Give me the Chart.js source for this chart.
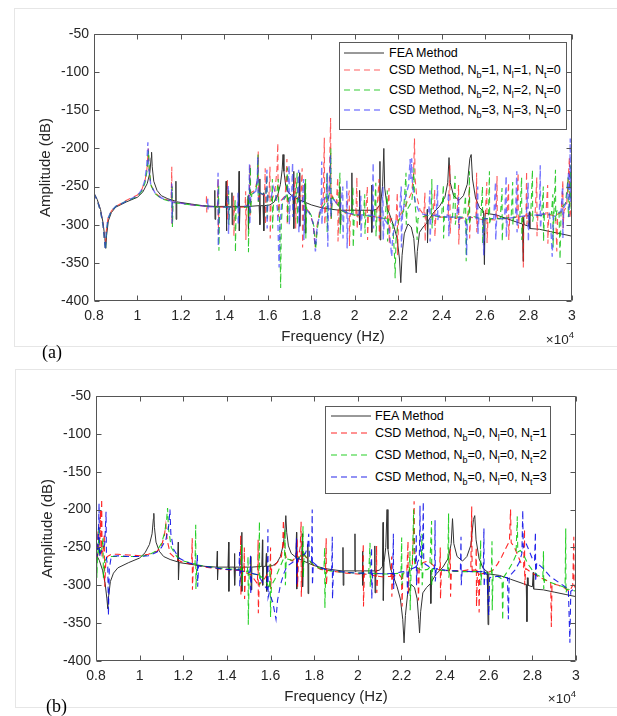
<!DOCTYPE html>
<html><head><meta charset="utf-8">
<script src="https://cdn.jsdelivr.net/npm/chart.js@4.4.1/dist/chart.umd.min.js"></script>
<style>
html,body{margin:0;padding:0;background:#fff;}
#wrap{position:relative;width:617px;height:716px;overflow:hidden;font-family:'Liberation Sans',Arial,Helvetica,sans-serif;}
canvas{position:absolute;left:0;}
.frame{position:absolute;border:1px solid #e6e6e6;box-sizing:border-box;}
.leg{position:absolute;box-sizing:border-box;border:1px solid #5a5a5a;background:#fff;z-index:5;}
.row{position:absolute;left:0;height:16px;display:flex;align-items:center;white-space:nowrap;font-size:12.5px;color:#000;line-height:16px;}
.row sub{font-size:9px;vertical-align:-4px;line-height:0;}
.lab{position:absolute;font-family:'Liberation Serif','Times New Roman',serif;font-size:18px;color:#000;z-index:5;}
.exp{position:absolute;font-size:13.5px;color:#262626;z-index:5;white-space:nowrap;}
.exp sup{font-size:9.5px;vertical-align:6px;line-height:0;}
</style></head>
<body><div id="wrap">
<div class="frame" style="left:14px;top:8px;width:620px;height:339px;"></div>
<div class="frame" style="left:15px;top:369px;width:620px;height:339px;"></div>
<canvas id="ca" width="617" height="360" style="top:0;"></canvas>
<canvas id="cb" width="617" height="356" style="top:360px;"></canvas>

<div class="leg" style="left:339px;top:42px;width:228px;height:88px;">
 <div class="row" style="top:2px;"><svg width="40" height="4" style="margin-left:4px;margin-right:5px;"><line x1="0" y1="2" x2="40" y2="2" stroke="#333" stroke-width="1"/></svg><span>FEA Method</span></div>
 <div class="row" style="top:19px;"><svg width="40" height="4" style="margin-left:4px;margin-right:5px;"><line x1="0" y1="2" x2="40" y2="2" stroke="rgba(255,40,40,0.75)" stroke-width="1.2" stroke-dasharray="6 4"/></svg><span>CSD Method, N<sub>b</sub>=1, N<sub>l</sub>=1, N<sub>t</sub>=0</span></div>
 <div class="row" style="top:39px;"><svg width="40" height="4" style="margin-left:4px;margin-right:5px;"><line x1="0" y1="2" x2="40" y2="2" stroke="rgba(0,190,0,0.8)" stroke-width="1.2" stroke-dasharray="6 4"/></svg><span>CSD Method, N<sub>b</sub>=2, N<sub>l</sub>=2, N<sub>t</sub>=0</span></div>
 <div class="row" style="top:59px;"><svg width="40" height="4" style="margin-left:4px;margin-right:5px;"><line x1="0" y1="2" x2="40" y2="2" stroke="rgba(70,70,255,0.65)" stroke-width="1.6" stroke-dasharray="6 4"/></svg><span>CSD Method, N<sub>b</sub>=3, N<sub>l</sub>=3, N<sub>t</sub>=0</span></div>
</div>

<div class="leg" style="left:325px;top:406px;width:226px;height:88px;">
 <div class="row" style="top:1px;"><svg width="40" height="4" style="margin-left:5px;margin-right:4px;"><line x1="0" y1="2" x2="40" y2="2" stroke="#333" stroke-width="1"/></svg><span>FEA Method</span></div>
 <div class="row" style="top:18px;"><svg width="40" height="4" style="margin-left:5px;margin-right:4px;"><line x1="0" y1="2" x2="40" y2="2" stroke="rgba(255,0,0,0.85)" stroke-width="1.2" stroke-dasharray="6 4"/></svg><span>CSD Method, N<sub>b</sub>=0, N<sub>l</sub>=0, N<sub>t</sub>=1</span></div>
 <div class="row" style="top:40px;"><svg width="40" height="4" style="margin-left:5px;margin-right:4px;"><line x1="0" y1="2" x2="40" y2="2" stroke="rgba(0,200,0,0.85)" stroke-width="1.2" stroke-dasharray="6 4"/></svg><span>CSD Method, N<sub>b</sub>=0, N<sub>l</sub>=0, N<sub>t</sub>=2</span></div>
 <div class="row" style="top:62px;"><svg width="40" height="4" style="margin-left:5px;margin-right:4px;"><line x1="0" y1="2" x2="40" y2="2" stroke="rgba(0,0,230,0.85)" stroke-width="1.2" stroke-dasharray="6 4"/></svg><span>CSD Method, N<sub>b</sub>=0, N<sub>l</sub>=0, N<sub>t</sub>=3</span></div>
</div>

<div class="exp" style="right:43px;top:332px;">&times;10<sup>4</sup></div>
<div class="exp" style="right:41px;top:691px;">&times;10<sup>4</sup></div>
<div class="lab" style="left:42px;top:342px;">(a)</div>
<div class="lab" style="left:46px;top:696px;">(b)</div>
</div>
<script>
// ---- axis ticks ----
const xTicks = [0.8,1.0,1.2,1.4,1.6,1.8,2.0,2.2,2.4,2.6,2.8,3.0];
const yTicks = [-50,-100,-150,-200,-250,-300,-350,-400];

// ---- FEA method (same in both panels), x in 1e4 Hz, y in dB ----
const feaPts = [
[0.800,-259],[0.815,-267],[0.830,-280],[0.842,-298],[0.850,-318],[0.854,-331],[0.858,-314],[0.866,-295],[0.880,-284],[0.900,-277],[0.950,-270],[1.000,-264],[1.025,-257],[1.045,-246],[1.057,-232],[1.063,-212],[1.065,-205],[1.068,-224],[1.075,-243],[1.090,-255],[1.110,-262],[1.140,-266],[1.174,-269],
[1.177,-243],[1.178,-293],[1.181,-270],
[1.250,-273],[1.300,-275],[1.353,-276],
[1.356,-255],[1.357,-293],[1.360,-276],
[1.405,-276],[1.408,-243],[1.409,-308],[1.412,-276],
[1.433,-276],[1.435,-258],[1.436,-300],[1.439,-276],
[1.465,-276],[1.468,-230],[1.469,-308],[1.472,-276],
[1.507,-276],[1.510,-262],[1.511,-306],[1.514,-276],
[1.560,-275],[1.563,-240],[1.564,-300],[1.567,-275],
[1.578,-275],[1.581,-258],[1.582,-308],[1.585,-275],
[1.610,-274],[1.630,-270],[1.645,-262],[1.658,-247],[1.666,-228],[1.670,-208],[1.674,-230],[1.682,-248],[1.695,-258],
[1.716,-263],[1.719,-230],[1.720,-305],[1.723,-264],
[1.743,-267],[1.746,-232],[1.747,-302],[1.750,-268],
[1.768,-270],[1.771,-246],[1.772,-311],[1.775,-271],
[1.800,-274],[1.850,-278],[1.900,-280],
[1.930,-281],[1.932,-250],[1.933,-300],[1.936,-281],
[1.985,-281],[1.987,-232],[1.988,-282],[1.991,-281],
[2.020,-281],[2.022,-255],[2.023,-300],[2.026,-281],
[2.075,-281],[2.078,-248],[2.079,-310],[2.082,-281],
[2.100,-280],[2.113,-275],[2.116,-217],[2.117,-320],[2.120,-270],[2.128,-250],[2.134,-200],[2.138,-252],[2.150,-278],[2.165,-290],[2.180,-302],[2.195,-318],[2.206,-345],[2.212,-376],[2.218,-340],[2.228,-312],[2.245,-299],[2.260,-303],[2.272,-318],[2.279,-345],[2.283,-363],[2.288,-335],[2.298,-310],[2.315,-303],
[2.332,-298],[2.334,-280],[2.335,-324],[2.338,-295],
[2.360,-285],[2.390,-276],[2.415,-264],[2.428,-245],[2.434,-212],[2.440,-245],[2.455,-262],[2.480,-268],[2.500,-262],[2.518,-247],[2.530,-213],[2.536,-208],[2.542,-240],[2.556,-265],[2.575,-278],
[2.593,-282],[2.595,-311],[2.597,-352],[2.600,-285],
[2.650,-287],[2.700,-292],[2.760,-298],
[2.772,-299],[2.775,-348],[2.777,-290],[2.780,-300],
[2.800,-302],[2.804,-283],[2.806,-305],
[2.850,-306],[2.900,-309],[2.950,-312],[3.000,-315]
];

// ---- panel (a): CSD, Nb=Nl=1,2,3, Nt=0 ----
const redA = [
[0.800,-259],[0.815,-268],[0.830,-282],[0.842,-300],[0.849,-320],[0.852,-330],[0.856,-310],[0.864,-292],[0.880,-282],[0.900,-276],[0.950,-268],[1.000,-261],[1.020,-254],[1.035,-242],[1.044,-226],[1.050,-200],[1.054,-228],[1.062,-248],[1.080,-258],[1.110,-265],[1.155,-269],
[1.158,-224],[1.159,-300],[1.162,-270],
[1.250,-274],[1.316,-276],[1.318,-261],[1.319,-284],[1.322,-276],
[1.368,-277],[1.371,-240],[1.372,-312],[1.375,-277],
[1.411,-277],[1.414,-241],[1.415,-294],[1.418,-277],
[1.440,-277],[1.443,-262],[1.444,-315],[1.447,-277],
[1.495,-277],[1.498,-256],[1.499,-320],[1.502,-274],
[1.515,-262],[1.518,-222],[1.519,-290],[1.522,-258],
[1.540,-255],[1.553,-240],[1.556,-204],[1.557,-272],[1.562,-258],
[1.585,-262],[1.588,-226],[1.589,-300],[1.592,-262],
[1.605,-264],[1.610,-224],[1.611,-318],[1.615,-270],
[1.632,-258],[1.642,-228],[1.646,-193],[1.648,-290],[1.655,-270],
[1.680,-262],[1.688,-214],[1.689,-300],[1.693,-266],
[1.720,-262],[1.727,-238],[1.728,-305],[1.731,-266],
[1.752,-262],[1.758,-226],[1.760,-330],[1.764,-275],
[1.790,-283],[1.808,-298],[1.818,-330],[1.826,-302],[1.840,-280],
[1.855,-270],[1.860,-186],[1.862,-300],[1.868,-272],
[1.882,-260],[1.889,-160],[1.891,-295],[1.896,-262],
[1.915,-272],[1.922,-238],[1.923,-322],[1.928,-280],
[1.960,-285],[1.975,-255],[1.976,-328],[1.980,-286],
[2.005,-288],[2.010,-238],[2.011,-306],[2.015,-287],
[2.050,-288],[2.058,-250],[2.059,-320],[2.063,-288],
[2.100,-290],[2.112,-240],[2.113,-318],[2.118,-289],
[2.150,-292],[2.158,-252],[2.159,-325],[2.165,-292],
[2.190,-294],[2.196,-258],[2.197,-340],[2.202,-290],
[2.225,-280],[2.245,-268],[2.262,-258],[2.271,-232],[2.275,-187],[2.278,-240],[2.285,-262],[2.300,-280],
[2.318,-287],[2.323,-258],[2.324,-322],[2.328,-288],
[2.360,-290],[2.368,-254],[2.369,-316],[2.373,-290],
[2.430,-290],[2.438,-222],[2.439,-312],[2.444,-290],
[2.470,-292],[2.478,-248],[2.479,-326],[2.483,-292],
[2.520,-290],[2.528,-250],[2.529,-318],[2.533,-290],
[2.558,-292],[2.561,-232],[2.562,-310],[2.566,-292],
[2.600,-294],[2.608,-244],[2.609,-324],[2.613,-293],
[2.650,-294],[2.655,-236],[2.656,-290],[2.660,-292],
[2.700,-292],[2.708,-245],[2.709,-320],[2.713,-292],
[2.745,-290],[2.752,-232],[2.753,-305],[2.757,-290],
[2.772,-288],[2.776,-356],[2.778,-290],
[2.788,-288],[2.791,-230],[2.792,-300],[2.796,-288],
[2.830,-287],[2.838,-238],[2.839,-315],[2.843,-287],
[2.880,-286],[2.888,-248],[2.889,-325],[2.893,-287],
[2.925,-288],[2.930,-335],[2.934,-286],
[2.950,-284],[2.958,-242],[2.959,-305],[2.963,-282],
[2.975,-276],[2.988,-212],[2.990,-292],[3.000,-268]
];
const greenA = [
[0.800,-259],[0.815,-268],[0.830,-283],[0.842,-302],[0.849,-324],[0.853,-333],[0.857,-310],[0.865,-292],[0.880,-282],[0.900,-276],[0.950,-269],[1.000,-263],[1.020,-256],[1.035,-245],[1.045,-228],[1.051,-203],[1.055,-230],[1.063,-249],[1.080,-259],[1.110,-266],[1.158,-270],
[1.160,-250],[1.161,-303],[1.164,-271],
[1.250,-274],[1.330,-276],
[1.372,-277],[1.374,-248],[1.375,-334],[1.378,-277],
[1.418,-277],[1.420,-255],[1.421,-300],[1.424,-277],
[1.448,-277],[1.450,-268],[1.451,-336],[1.454,-277],
[1.508,-277],[1.510,-262],[1.511,-336],[1.514,-270],
[1.520,-224],[1.521,-285],[1.526,-260],
[1.545,-256],[1.552,-240],[1.555,-208],[1.556,-270],[1.562,-258],
[1.590,-262],[1.596,-235],[1.597,-292],[1.600,-262],
[1.618,-268],[1.621,-240],[1.622,-305],[1.626,-272],
[1.640,-262],[1.648,-240],[1.650,-272],[1.655,-300],[1.659,-383],[1.662,-300],[1.668,-270],
[1.685,-262],[1.690,-225],[1.691,-298],[1.695,-265],
[1.730,-263],[1.735,-232],[1.736,-300],[1.740,-266],
[1.770,-272],[1.774,-240],[1.775,-318],[1.779,-278],
[1.800,-288],[1.812,-302],[1.820,-332],[1.828,-305],[1.842,-282],
[1.868,-270],[1.872,-232],[1.873,-310],[1.877,-268],
[1.886,-255],[1.890,-200],[1.892,-292],[1.897,-264],
[1.925,-275],[1.932,-232],[1.933,-312],[1.938,-282],
[1.985,-286],[1.992,-250],[1.993,-330],[1.998,-287],
[2.040,-288],[2.046,-260],[2.047,-312],[2.051,-288],
[2.090,-290],[2.097,-245],[2.098,-315],[2.102,-290],
[2.140,-292],[2.150,-255],[2.151,-322],[2.156,-293],
[2.175,-300],[2.183,-340],[2.186,-370],[2.190,-318],[2.200,-296],
[2.225,-282],[2.236,-232],[2.237,-300],[2.242,-280],
[2.262,-270],[2.270,-250],[2.272,-226],[2.275,-262],[2.280,-280],
[2.285,-300],[2.287,-320],[2.291,-292],
[2.330,-288],[2.352,-288],[2.355,-240],[2.356,-305],[2.360,-288],
[2.400,-290],[2.408,-248],[2.409,-318],[2.413,-290],
[2.450,-290],[2.462,-236],[2.463,-300],[2.467,-290],
[2.500,-290],[2.510,-262],[2.513,-348],[2.516,-290],
[2.525,-285],[2.528,-230],[2.529,-300],[2.533,-288],
[2.580,-292],[2.588,-250],[2.589,-325],[2.593,-292],
[2.615,-292],[2.620,-230],[2.621,-300],[2.625,-292],
[2.670,-292],[2.678,-252],[2.679,-322],[2.683,-292],
[2.720,-290],[2.727,-244],[2.728,-300],[2.732,-290],
[2.760,-290],[2.768,-238],[2.769,-320],[2.773,-290],
[2.810,-288],[2.818,-228],[2.819,-296],[2.823,-288],
[2.860,-288],[2.868,-250],[2.869,-322],[2.873,-287],
[2.905,-286],[2.912,-260],[2.913,-330],[2.917,-284],
[2.924,-228],[2.925,-295],[2.930,-282],
[2.940,-280],[2.945,-345],[2.950,-278],
[2.970,-272],[2.982,-238],[2.983,-290],[2.990,-270],[2.994,-222],[2.996,-280],[3.000,-262]
];
const blueA = [
[0.800,-259],[0.815,-268],[0.830,-282],[0.842,-301],[0.849,-323],[0.852,-333],[0.856,-311],[0.864,-292],[0.880,-282],[0.900,-276],[0.950,-269],[1.000,-262],[1.020,-254],[1.034,-242],[1.043,-222],[1.048,-192],[1.052,-226],[1.061,-247],[1.080,-258],[1.110,-265],[1.156,-269],
[1.158,-246],[1.159,-298],[1.162,-270],
[1.250,-274],[1.322,-276],[1.324,-266],[1.325,-281],[1.328,-276],
[1.369,-277],[1.371,-232],[1.372,-328],[1.375,-277],
[1.415,-277],[1.418,-248],[1.419,-312],[1.422,-277],
[1.460,-277],[1.463,-258],[1.464,-300],[1.467,-277],
[1.512,-275],[1.516,-220],[1.517,-300],[1.521,-262],
[1.545,-256],[1.552,-238],[1.554,-210],[1.556,-268],[1.562,-258],
[1.592,-262],[1.596,-228],[1.597,-305],[1.600,-262],
[1.615,-265],[1.625,-250],[1.635,-258],[1.645,-282],[1.652,-356],[1.656,-300],[1.665,-268],
[1.690,-260],[1.698,-222],[1.699,-300],[1.703,-264],
[1.710,-262],[1.714,-219],[1.715,-290],[1.719,-264],
[1.738,-262],[1.742,-228],[1.743,-310],[1.747,-268],
[1.760,-270],[1.765,-240],[1.766,-320],[1.770,-278],
[1.795,-286],[1.810,-300],[1.819,-335],[1.827,-303],[1.842,-282],
[1.846,-270],[1.848,-217],[1.849,-300],[1.853,-268],
[1.872,-262],[1.874,-232],[1.876,-329],[1.880,-262],
[1.885,-245],[1.888,-208],[1.890,-290],[1.895,-265],
[1.935,-277],[1.945,-250],[1.946,-318],[1.950,-282],
[1.962,-284],[1.964,-241],[1.965,-331],[1.969,-285],
[2.020,-287],[2.028,-262],[2.029,-316],[2.033,-287],
[2.080,-288],[2.085,-219],[2.086,-305],[2.090,-288],
[2.125,-292],[2.130,-250],[2.131,-320],[2.136,-293],
[2.155,-300],[2.165,-325],[2.170,-342],[2.175,-315],[2.190,-295],
[2.205,-290],[2.214,-250],[2.215,-330],[2.220,-285],
[2.235,-262],[2.248,-248],[2.255,-214],[2.258,-240],[2.262,-213],[2.266,-250],[2.280,-272],[2.300,-285],
[2.340,-288],[2.346,-255],[2.347,-322],[2.351,-288],
[2.375,-288],[2.381,-248],[2.382,-294],[2.386,-288],
[2.425,-290],[2.432,-258],[2.433,-315],[2.437,-290],
[2.470,-290],[2.478,-262],[2.479,-305],[2.483,-290],
[2.505,-292],[2.512,-300],[2.515,-340],[2.518,-298],[2.525,-290],
[2.560,-292],[2.566,-250],[2.567,-312],[2.571,-292],
[2.588,-292],[2.592,-320],[2.594,-340],[2.597,-292],
[2.640,-292],[2.648,-244],[2.649,-320],[2.653,-292],
[2.690,-292],[2.697,-236],[2.698,-316],[2.702,-292],
[2.740,-290],[2.746,-230],[2.747,-310],[2.751,-290],
[2.790,-288],[2.798,-245],[2.799,-322],[2.803,-288],
[2.850,-287],[2.854,-222],[2.855,-305],[2.860,-286],
[2.895,-285],[2.902,-300],[2.909,-342],[2.914,-290],
[2.950,-282],[2.957,-250],[2.958,-318],[2.962,-278],
[2.975,-270],[2.985,-230],[2.986,-290],[2.989,-262],[2.992,-187],[2.994,-270],[3.000,-260]
];

// ---- panel (b): CSD, Nb=Nl=0, Nt=1,2,3 ----
const redB = [
[0.800,-250],[0.805,-228],[0.807,-262],[0.812,-252],[0.818,-240],[0.821,-200],[0.823,-258],[0.826,-186],[0.828,-262],[0.834,-250],[0.838,-232],[0.840,-302],[0.845,-268],[0.852,-262],[0.870,-259],[0.900,-259],[0.950,-260],[1.000,-261],[1.040,-259],[1.080,-255],[1.100,-248],[1.113,-235],[1.120,-220],[1.126,-240],[1.140,-258],[1.170,-266],[1.200,-270],[1.238,-272],
[1.241,-238],[1.242,-306],[1.246,-273],
[1.300,-276],[1.380,-279],[1.440,-280],
[1.461,-280],[1.463,-234],[1.464,-313],[1.468,-280],
[1.478,-282],[1.480,-250],[1.481,-318],[1.485,-283],
[1.510,-286],[1.525,-292],[1.540,-298],
[1.543,-240],[1.544,-337],[1.548,-298],
[1.560,-296],[1.575,-290],[1.590,-283],
[1.598,-280],[1.600,-250],[1.601,-305],[1.605,-278],
[1.630,-270],[1.650,-262],[1.656,-246],[1.659,-214],[1.662,-250],[1.672,-264],
[1.700,-268],[1.718,-262],[1.722,-238],[1.724,-302],[1.728,-262],
[1.736,-250],[1.740,-216],[1.741,-315],[1.746,-258],
[1.760,-262],[1.775,-266],[1.800,-275],[1.830,-279],
[1.852,-280],[1.855,-238],[1.856,-300],[1.860,-280],
[1.900,-282],[1.950,-284],[2.000,-285],
[2.022,-285],[2.025,-245],[2.026,-328],[2.030,-285],
[2.060,-286],[2.084,-288],[2.086,-248],[2.087,-310],[2.091,-288],
[2.120,-289],[2.152,-288],[2.155,-262],[2.156,-315],[2.160,-288],
[2.190,-286],[2.200,-290],[2.203,-328],[2.206,-286],
[2.225,-280],[2.230,-242],[2.231,-310],[2.235,-280],
[2.250,-272],[2.256,-220],[2.258,-189],[2.260,-250],[2.265,-272],
[2.275,-278],[2.278,-320],[2.282,-275],
[2.300,-270],[2.320,-268],[2.340,-272],[2.360,-278],
[2.375,-280],[2.378,-250],[2.379,-318],[2.383,-280],
[2.420,-281],[2.424,-252],[2.425,-315],[2.429,-281],
[2.480,-281],[2.500,-280],
[2.518,-278],[2.522,-196],[2.524,-285],[2.528,-280],
[2.540,-280],[2.543,-250],[2.544,-328],[2.548,-282],
[2.553,-285],[2.556,-336],[2.559,-285],
[2.590,-284],[2.620,-280],[2.640,-272],[2.660,-262],[2.680,-250],[2.695,-242],[2.700,-200],[2.703,-244],[2.715,-248],[2.735,-262],[2.750,-272],
[2.760,-276],[2.764,-226],[2.765,-300],[2.770,-278],
[2.800,-284],[2.830,-289],[2.860,-293],
[2.884,-296],[2.887,-355],[2.890,-298],
[2.920,-300],[2.950,-304],[2.970,-308],
[2.985,-300],[2.990,-236],[2.991,-300],[3.000,-305]
];
const greenB = [
[0.800,-256],[0.802,-210],[0.804,-290],[0.807,-262],[0.811,-250],[0.813,-222],[0.815,-262],[0.820,-255],[0.828,-250],[0.832,-238],[0.834,-290],[0.840,-268],[0.850,-264],[0.870,-262],[0.900,-262],[0.950,-262],[1.000,-262],[1.040,-260],[1.080,-254],[1.100,-245],[1.115,-230],[1.124,-212],[1.128,-198],[1.132,-225],[1.145,-250],[1.170,-262],[1.200,-268],[1.254,-272],
[1.257,-220],[1.258,-305],[1.262,-273],
[1.300,-275],[1.380,-278],[1.450,-279],
[1.465,-279],[1.468,-246],[1.469,-300],[1.473,-279],
[1.494,-282],[1.497,-262],[1.498,-352],[1.502,-284],
[1.520,-285],[1.546,-286],[1.549,-216],[1.550,-300],[1.554,-288],
[1.570,-292],[1.585,-298],[1.595,-305],
[1.598,-272],[1.600,-342],[1.604,-300],
[1.620,-292],[1.640,-278],[1.655,-268],
[1.664,-262],[1.667,-226],[1.668,-300],[1.672,-265],
[1.700,-267],[1.730,-264],
[1.745,-258],[1.749,-222],[1.750,-290],[1.754,-258],
[1.760,-262],[1.780,-268],[1.800,-274],[1.830,-278],
[1.845,-279],[1.848,-250],[1.849,-330],[1.853,-280],
[1.900,-282],[1.950,-283],[2.000,-284],
[2.050,-284],[2.056,-244],[2.057,-302],[2.061,-284],
[2.100,-285],[2.150,-285],
[2.198,-284],[2.201,-237],[2.202,-300],[2.206,-284],
[2.236,-282],[2.239,-255],[2.240,-333],[2.244,-282],
[2.250,-270],[2.256,-200],[2.258,-260],[2.262,-275],
[2.290,-280],[2.294,-232],[2.295,-300],[2.299,-280],
[2.320,-279],[2.330,-276],[2.338,-215],[2.339,-300],[2.343,-278],
[2.380,-280],[2.412,-281],[2.416,-205],[2.417,-290],[2.421,-281],
[2.470,-282],[2.520,-282],
[2.560,-282],[2.563,-240],[2.564,-300],[2.568,-282],
[2.600,-284],[2.612,-286],[2.615,-242],[2.616,-333],[2.620,-286],
[2.640,-288],[2.661,-292],[2.664,-346],[2.667,-290],
[2.690,-280],[2.710,-270],[2.725,-260],[2.731,-209],[2.733,-256],[2.745,-254],[2.760,-260],[2.780,-272],
[2.800,-280],[2.820,-286],[2.848,-290],[2.851,-255],[2.852,-305],[2.856,-292],
[2.880,-296],[2.920,-300],[2.950,-303],
[2.953,-225],[2.954,-310],[2.958,-305],
[2.980,-306],[3.000,-308]
];
const blueB = [
[0.800,-245],[0.803,-225],[0.805,-262],[0.810,-250],[0.814,-192],[0.816,-262],[0.822,-256],[0.830,-252],[0.840,-246],[0.846,-203],[0.848,-265],[0.854,-275],[0.857,-340],[0.861,-278],[0.870,-262],[0.900,-261],[0.950,-262],[1.000,-262],[1.040,-261],[1.080,-256],[1.100,-250],[1.120,-240],[1.133,-222],[1.139,-200],[1.143,-232],[1.155,-252],[1.180,-264],[1.220,-270],
[1.262,-273],[1.265,-260],[1.266,-302],[1.270,-274],
[1.320,-276],[1.400,-279],[1.455,-280],
[1.458,-256],[1.459,-302],[1.463,-281],
[1.505,-283],[1.508,-260],[1.509,-312],[1.513,-284],
[1.540,-286],[1.555,-292],[1.570,-300],
[1.585,-305],[1.588,-226],[1.589,-316],[1.594,-310],
[1.610,-322],[1.625,-345],[1.632,-320],[1.645,-300],[1.660,-285],
[1.675,-275],[1.700,-270],
[1.716,-266],[1.719,-238],[1.720,-300],[1.724,-266],
[1.740,-262],[1.760,-258],[1.770,-248],[1.775,-232],[1.778,-262],
[1.788,-268],[1.791,-200],[1.792,-300],[1.796,-270],
[1.820,-276],[1.860,-280],
[1.880,-280],[1.883,-236],[1.884,-318],[1.888,-281],
[1.950,-283],[2.000,-284],
[2.060,-284],[2.063,-250],[2.064,-318],[2.068,-284],
[2.130,-285],[2.160,-284],[2.163,-232],[2.164,-305],[2.168,-284],
[2.210,-282],[2.225,-280],[2.228,-312],[2.232,-280],
[2.265,-276],[2.268,-232],[2.269,-300],[2.273,-270],
[2.282,-265],[2.285,-195],[2.287,-262],[2.292,-264],
[2.297,-250],[2.300,-190],[2.302,-265],[2.308,-272],
[2.330,-276],[2.352,-278],[2.354,-214],[2.355,-295],[2.360,-278],
[2.400,-280],[2.440,-281],
[2.470,-281],[2.473,-236],[2.474,-300],[2.478,-281],
[2.520,-282],[2.560,-282],
[2.575,-282],[2.578,-225],[2.579,-302],[2.583,-283],
[2.592,-286],[2.600,-340],[2.604,-290],
[2.640,-288],[2.686,-290],[2.690,-345],[2.694,-288],
[2.720,-280],[2.740,-270],[2.752,-258],[2.756,-201],[2.758,-250],[2.770,-244],[2.785,-254],[2.800,-265],
[2.810,-268],[2.814,-230],[2.815,-295],[2.820,-270],
[2.850,-278],[2.880,-288],[2.920,-296],[2.950,-302],
[2.965,-305],[2.972,-376],[2.976,-308],
[2.990,-305],[3.000,-302]
];

const FONT = "'Liberation Sans', Arial, Helvetica, sans-serif";
const TXT = '#262626';
const xy = pts => pts.map(p => ({x: p[0], y: p[1]}));

const framePlugin = {
  id: 'frameTicks',
  afterDatasetsDraw(chart) {
    const {ctx, chartArea, scales} = chart;
    const L = Math.round(chartArea.left) + 0.5, T = Math.round(chartArea.top) + 0.5;
    const R = Math.round(chartArea.right) - 0.5, B = Math.round(chartArea.bottom) - 0.5;
    ctx.save();
    ctx.strokeStyle = '#555';
    ctx.lineWidth = 1;
    ctx.beginPath();
    ctx.rect(L, T, R - L, B - T);
    for (const t of scales.x.ticks) {
      const p = Math.round(scales.x.getPixelForValue(t.value)) + 0.5;
      ctx.moveTo(p, B); ctx.lineTo(p, B - 5);
      ctx.moveTo(p, T); ctx.lineTo(p, T + 5);
    }
    for (const t of scales.y.ticks) {
      const p = Math.round(scales.y.getPixelForValue(t.value)) + 0.5;
      ctx.moveTo(L, p); ctx.lineTo(L + 5, p);
      ctx.moveTo(R, p); ctx.lineTo(R - 5, p);
    }
    ctx.stroke();
    ctx.restore();
  }
};

function makeChart(id, series, colors, widths, pad) {
  const dsStyle = (label, pts, color, w, dash, order) => ({
    label, data: xy(pts), borderColor: color, borderWidth: w, borderDash: dash,
    pointRadius: 0, tension: 0, fill: false, order
  });
  return new Chart(document.getElementById(id), {
    type: 'line',
    data: { datasets: [
      dsStyle('FEA Method', feaPts, '#333333', 1, [], 4),
      dsStyle(series[0][0], series[0][1], colors[0], widths[0], [6,4], 3),
      dsStyle(series[1][0], series[1][1], colors[1], widths[1], [6,4], 2),
      dsStyle(series[2][0], series[2][1], colors[2], widths[2], [6,4], 1)
    ]},
    options: {
      responsive: false, animation: false, devicePixelRatio: 1,
      layout: { padding: pad },
      plugins: { legend: { display: false }, tooltip: { enabled: false } },
      scales: {
        x: {
          type: 'linear', min: 0.8, max: 3,
          afterBuildTicks: s => { s.ticks = xTicks.map(v => ({value: v})); },
          afterFit: s => { s.height = 48; },
          grid: { display: false, drawTicks: false }, border: { display: false },
          ticks: { autoSkip: false, maxRotation: 0, padding: 7, color: TXT,
                   font: { family: FONT, size: 14 },
                   callback: v => String(Math.round(v * 10) / 10) },
          title: { display: true, text: 'Frequency (Hz)', color: TXT,
                   font: { family: FONT, size: 15 }, padding: { top: 0, bottom: 3 } }
        },
        y: {
          type: 'linear', min: -400, max: -50,
          afterBuildTicks: s => { s.ticks = yTicks.map(v => ({value: v})); },
          afterFit: s => { s.width = 60; },
          grid: { display: false, drawTicks: false }, border: { display: false },
          ticks: { padding: 5, color: TXT, font: { family: FONT, size: 14 },
                   callback: v => String(v) },
          title: { display: true, text: 'Amplitude (dB)', color: TXT,
                   font: { family: FONT, size: 15 }, padding: { top: 3, bottom: 0 } }
        }
      }
    },
    plugins: [framePlugin]
  });
}

makeChart('ca',
  [['CSD Method, Nb=1, Nl=1, Nt=0', redA], ['CSD Method, Nb=2, Nl=2, Nt=0', greenA], ['CSD Method, Nb=3, Nl=3, Nt=0', blueA]],
  ['rgba(255,30,30,0.75)', 'rgba(0,190,0,0.8)', 'rgba(50,50,255,0.65)'], [1.1, 1.1, 1.4],
  { left: 34, top: 34, right: 45, bottom: 11 });
makeChart('cb',
  [['CSD Method, Nb=0, Nl=0, Nt=1', redB], ['CSD Method, Nb=0, Nl=0, Nt=2', greenB], ['CSD Method, Nb=0, Nl=0, Nt=3', blueB]],
  ['rgba(255,0,0,0.85)', 'rgba(0,200,0,0.85)', 'rgba(0,0,230,0.85)'], [1.1, 1.1, 1.1],
  { left: 36, top: 36, right: 41, bottom: 7 });
</script>
</body></html>
